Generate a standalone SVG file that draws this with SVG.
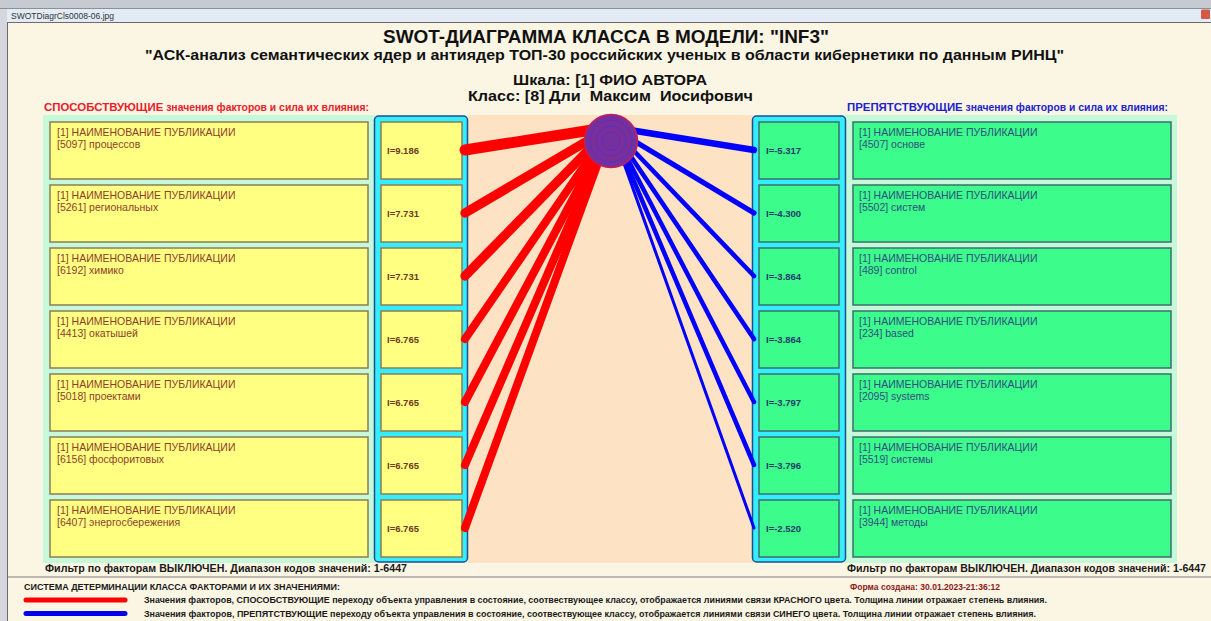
<svg xmlns="http://www.w3.org/2000/svg" width="1211" height="621" viewBox="0 0 1211 621">
<defs>
<style>
text{font-family:"Liberation Sans",Arial,sans-serif;}
.bg{fill:#FBF5E4;}
.mint{fill:#C6F9DA;}
.peach{fill:#FDE2C3;}
.cyan{fill:#33EEFF;stroke:#1F4E8F;stroke-width:1.5;}
.ybox{fill:#FFFF82;stroke:#8A7D55;stroke-width:1.5;}
.gbox{fill:#3CFC8C;stroke:#3E6E6E;stroke-width:1.5;}
.ytxt{font-size:10.5px;fill:#8B3E2A;}
.gtxt{font-size:10.5px;fill:#2F4F7F;}
.yval{font-size:9.5px;font-weight:bold;fill:#6E3A1E;}
.gval{font-size:9.5px;font-weight:bold;fill:#1E3A6A;}
.red{stroke:#FF0000;stroke-linecap:round;fill:none;}
.blue{stroke:#0000FF;stroke-linecap:round;fill:none;}
.ttl{font-weight:bold;fill:#111;}
.filter{font-size:10.5px;font-weight:bold;fill:#1a1a1a;}
.leg{font-size:8.5px;font-weight:bold;fill:#1a1a1a;}
</style>
</defs>

<!-- window chrome -->
<rect x="0" y="0" width="1211" height="621" class="bg"/>
<rect x="0" y="0" width="1211" height="9" fill="#C6CBD2"/>
<line x1="0" y1="8.5" x2="1211" y2="8.5" stroke="#8A9098" stroke-width="1"/>
<rect x="0" y="9" width="1211" height="13" fill="#E2EBF6"/>
<text x="11" y="18.5" font-size="8.5" fill="#333">SWOTDiagrCls0008-06.jpg</text>
<rect x="1201" y="9.5" width="9" height="9.5" rx="1" fill="#D45A45"/>
<line x1="0" y1="22.5" x2="1211" y2="22.5" stroke="#6B6B6B" stroke-width="1"/>
<rect x="0" y="9" width="7" height="612" fill="#D4D8DE"/>
<line x1="7.5" y1="22" x2="7.5" y2="621" stroke="#6B6B6B" stroke-width="1"/>

<!-- titles -->
<text class="ttl" x="383" y="42.5" font-size="19" textLength="446" lengthAdjust="spacingAndGlyphs">SWOT-ДИАГРАММА КЛАССА В МОДЕЛИ: "INF3"</text>
<text class="ttl" x="145" y="60" font-size="15" textLength="919" lengthAdjust="spacingAndGlyphs">"АСК-анализ семантических ядер и антиядер ТОП-30 российских ученых в области кибернетики по данным РИНЦ"</text>
<text class="ttl" x="513" y="84.5" font-size="15" textLength="194" lengthAdjust="spacingAndGlyphs">Шкала: [1] ФИО АВТОРА</text>
<text class="ttl" x="468" y="100.5" font-size="15" textLength="285" lengthAdjust="spacingAndGlyphs" style="white-space:pre">Класс: [8] Дли  Максим  Иосифович</text>

<!-- side headers -->
<text x="44" y="111" font-weight="bold" fill="#E8202A" textLength="325" lengthAdjust="spacingAndGlyphs"><tspan font-size="11">СПОСОБСТВУЮЩИЕ</tspan><tspan font-size="10"> значения факторов и сила их влияния:</tspan></text>
<text x="847" y="111" font-weight="bold" fill="#2222CC" textLength="321" lengthAdjust="spacingAndGlyphs"><tspan font-size="11">ПРЕПЯТСТВУЮЩИЕ</tspan><tspan font-size="10"> значения факторов и сила их влияния:</tspan></text>

<!-- panels -->
<rect x="43" y="115" width="332" height="448" class="mint"/>
<rect x="468" y="115" width="285" height="448" class="peach"/>
<rect x="845" y="115" width="332" height="448" class="mint"/>
<rect x="374.5" y="116" width="93" height="446" rx="4" class="cyan"/>
<rect x="752.5" y="116" width="93" height="446" rx="4" class="cyan"/>

<!-- left factor nodes -->
<g id="left-factor-1"><rect x="50" y="122" width="318" height="57" class="ybox"/><text class="ytxt" x="57" y="135.5">[1] НАИМЕНОВАНИЕ ПУБЛИКАЦИИ</text><text class="ytxt" x="57" y="147.5">[5097] процессов</text></g>
<g id="left-factor-2"><rect x="50" y="185" width="318" height="57" class="ybox"/><text class="ytxt" x="57" y="198.5">[1] НАИМЕНОВАНИЕ ПУБЛИКАЦИИ</text><text class="ytxt" x="57" y="210.5">[5261] региональных</text></g>
<g id="left-factor-3"><rect x="50" y="248" width="318" height="57" class="ybox"/><text class="ytxt" x="57" y="261.5">[1] НАИМЕНОВАНИЕ ПУБЛИКАЦИИ</text><text class="ytxt" x="57" y="273.5">[6192] химико</text></g>
<g id="left-factor-4"><rect x="50" y="311" width="318" height="57" class="ybox"/><text class="ytxt" x="57" y="324.5">[1] НАИМЕНОВАНИЕ ПУБЛИКАЦИИ</text><text class="ytxt" x="57" y="336.5">[4413] окатышей</text></g>
<g id="left-factor-5"><rect x="50" y="374" width="318" height="57" class="ybox"/><text class="ytxt" x="57" y="387.5">[1] НАИМЕНОВАНИЕ ПУБЛИКАЦИИ</text><text class="ytxt" x="57" y="399.5">[5018] проектами</text></g>
<g id="left-factor-6"><rect x="50" y="437" width="318" height="57" class="ybox"/><text class="ytxt" x="57" y="450.5">[1] НАИМЕНОВАНИЕ ПУБЛИКАЦИИ</text><text class="ytxt" x="57" y="462.5">[6156] фосфоритовых</text></g>
<g id="left-factor-7"><rect x="50" y="500" width="318" height="57" class="ybox"/><text class="ytxt" x="57" y="513.5">[1] НАИМЕНОВАНИЕ ПУБЛИКАЦИИ</text><text class="ytxt" x="57" y="525.5">[6407] энергосбережения</text></g>

<!-- left value nodes -->
<g id="left-value-1"><rect x="381" y="122" width="81" height="57" class="ybox"/><text class="yval" x="387" y="154">I=9.186</text></g>
<g id="left-value-2"><rect x="381" y="185" width="81" height="57" class="ybox"/><text class="yval" x="387" y="217">I=7.731</text></g>
<g id="left-value-3"><rect x="381" y="248" width="81" height="57" class="ybox"/><text class="yval" x="387" y="280">I=7.731</text></g>
<g id="left-value-4"><rect x="381" y="311" width="81" height="57" class="ybox"/><text class="yval" x="387" y="343">I=6.765</text></g>
<g id="left-value-5"><rect x="381" y="374" width="81" height="57" class="ybox"/><text class="yval" x="387" y="406">I=6.765</text></g>
<g id="left-value-6"><rect x="381" y="437" width="81" height="57" class="ybox"/><text class="yval" x="387" y="469">I=6.765</text></g>
<g id="left-value-7"><rect x="381" y="500" width="81" height="57" class="ybox"/><text class="yval" x="387" y="532">I=6.765</text></g>

<!-- right value nodes -->
<g id="right-value-1"><rect x="759" y="122" width="80" height="57" class="gbox"/><text class="gval" x="766" y="154">I=-5.317</text></g>
<g id="right-value-2"><rect x="759" y="185" width="80" height="57" class="gbox"/><text class="gval" x="766" y="217">I=-4.300</text></g>
<g id="right-value-3"><rect x="759" y="248" width="80" height="57" class="gbox"/><text class="gval" x="766" y="280">I=-3.864</text></g>
<g id="right-value-4"><rect x="759" y="311" width="80" height="57" class="gbox"/><text class="gval" x="766" y="343">I=-3.864</text></g>
<g id="right-value-5"><rect x="759" y="374" width="80" height="57" class="gbox"/><text class="gval" x="766" y="406">I=-3.797</text></g>
<g id="right-value-6"><rect x="759" y="437" width="80" height="57" class="gbox"/><text class="gval" x="766" y="469">I=-3.796</text></g>
<g id="right-value-7"><rect x="759" y="500" width="80" height="57" class="gbox"/><text class="gval" x="766" y="532">I=-2.520</text></g>

<!-- right factor nodes -->
<g id="right-factor-1"><rect x="853" y="122" width="318" height="57" class="gbox"/><text class="gtxt" x="859" y="135.5">[1] НАИМЕНОВАНИЕ ПУБЛИКАЦИИ</text><text class="gtxt" x="859" y="147.5">[4507] основе</text></g>
<g id="right-factor-2"><rect x="853" y="185" width="318" height="57" class="gbox"/><text class="gtxt" x="859" y="198.5">[1] НАИМЕНОВАНИЕ ПУБЛИКАЦИИ</text><text class="gtxt" x="859" y="210.5">[5502] систем</text></g>
<g id="right-factor-3"><rect x="853" y="248" width="318" height="57" class="gbox"/><text class="gtxt" x="859" y="261.5">[1] НАИМЕНОВАНИЕ ПУБЛИКАЦИИ</text><text class="gtxt" x="859" y="273.5">[489] control</text></g>
<g id="right-factor-4"><rect x="853" y="311" width="318" height="57" class="gbox"/><text class="gtxt" x="859" y="324.5">[1] НАИМЕНОВАНИЕ ПУБЛИКАЦИИ</text><text class="gtxt" x="859" y="336.5">[234] based</text></g>
<g id="right-factor-5"><rect x="853" y="374" width="318" height="57" class="gbox"/><text class="gtxt" x="859" y="387.5">[1] НАИМЕНОВАНИЕ ПУБЛИКАЦИИ</text><text class="gtxt" x="859" y="399.5">[2095] systems</text></g>
<g id="right-factor-6"><rect x="853" y="437" width="318" height="57" class="gbox"/><text class="gtxt" x="859" y="450.5">[1] НАИМЕНОВАНИЕ ПУБЛИКАЦИИ</text><text class="gtxt" x="859" y="462.5">[5519] системы</text></g>
<g id="right-factor-7"><rect x="853" y="500" width="318" height="57" class="gbox"/><text class="gtxt" x="859" y="513.5">[1] НАИМЕНОВАНИЕ ПУБЛИКАЦИИ</text><text class="gtxt" x="859" y="525.5">[3944] методы</text></g>

<!-- connectors -->
<g id="connectors">
<line class="red" x1="611" y1="127" x2="465" y2="150" stroke-width="11"/>
<line class="red" x1="611" y1="127" x2="465" y2="213" stroke-width="9.3"/>
<line class="red" x1="611" y1="127" x2="465" y2="276" stroke-width="9.3"/>
<line class="red" x1="611" y1="127" x2="465" y2="339" stroke-width="8.1"/>
<line class="red" x1="611" y1="127" x2="465" y2="402" stroke-width="8.1"/>
<line class="red" x1="611" y1="127" x2="465" y2="465" stroke-width="8.1"/>
<line class="red" x1="611" y1="127" x2="465" y2="528" stroke-width="8.1"/>
<line class="blue" x1="611" y1="127" x2="754" y2="150" stroke-width="6.4"/>
<line class="blue" x1="611" y1="127" x2="754" y2="213" stroke-width="5.2"/>
<line class="blue" x1="611" y1="127" x2="754" y2="276" stroke-width="4.6"/>
<line class="blue" x1="611" y1="127" x2="754" y2="339" stroke-width="4.6"/>
<line class="blue" x1="611" y1="127" x2="754" y2="402" stroke-width="4.5"/>
<line class="blue" x1="611" y1="127" x2="754" y2="465" stroke-width="4.5"/>
<line class="blue" x1="611" y1="127" x2="754" y2="528" stroke-width="3"/>
</g>

<!-- class node -->
<g id="class-node">
<circle cx="611" cy="141" r="26.5" fill="#76309E" stroke="#C41E5A" stroke-width="1.5"/>
<circle cx="611" cy="141" r="21" fill="none" stroke="#4A2ED0" stroke-width="1" opacity="0.6"/>
<circle cx="611" cy="141" r="15" fill="none" stroke="#4A2ED0" stroke-width="1" opacity="0.6"/>
<circle cx="611" cy="141" r="9" fill="none" stroke="#4A2ED0" stroke-width="1" opacity="0.6"/>
<circle cx="611" cy="141" r="18" fill="none" stroke="#B02070" stroke-width="0.8" opacity="0.5"/>
<circle cx="611" cy="141" r="12" fill="none" stroke="#B02070" stroke-width="0.8" opacity="0.5"/>
</g>

<!-- filter lines -->
<text class="filter" x="45" y="572" textLength="362" lengthAdjust="spacingAndGlyphs">Фильтр по факторам ВЫКЛЮЧЕН. Диапазон кодов значений: 1-6447</text>
<text class="filter" x="847" y="572" textLength="359" lengthAdjust="spacingAndGlyphs">Фильтр по факторам ВЫКЛЮЧЕН. Диапазон кодов значений: 1-6447</text>

<!-- legend -->
<line x1="8" y1="577" x2="1211" y2="577" stroke="#808080" stroke-width="1.2"/>
<text class="leg" x="24" y="589.5" textLength="316" lengthAdjust="spacingAndGlyphs">СИСТЕМА ДЕТЕРМИНАЦИИ КЛАССА ФАКТОРАМИ И ИХ ЗНАЧЕНИЯМИ:</text>
<text class="leg" x="850" y="589.5" textLength="150" lengthAdjust="spacingAndGlyphs" style="fill:#8B1A1A">Форма создана: 30.01.2023-21:36:12</text>
<line x1="26" y1="600" x2="125" y2="600" stroke="#FF0000" stroke-width="5" stroke-linecap="round"/>
<line x1="26" y1="613.5" x2="125" y2="613.5" stroke="#0000EE" stroke-width="5" stroke-linecap="round"/>
<text class="leg" x="144" y="603" textLength="903" lengthAdjust="spacingAndGlyphs">Значения факторов, СПОСОБСТВУЮЩИЕ переходу объекта управления в состояние, соотвествующее классу, отображается линиями связи КРАСНОГО цвета. Толщина линии отражает степень влияния.</text>
<text class="leg" x="144" y="616.5" textLength="892" lengthAdjust="spacingAndGlyphs">Значения факторов, ПРЕПЯТСТВУЮЩИЕ переходу объекта управления в состояние, соотвествующее классу, отображается линиями связи СИНЕГО цвета. Толщина линии отражает степень влияния.</text>
</svg>
